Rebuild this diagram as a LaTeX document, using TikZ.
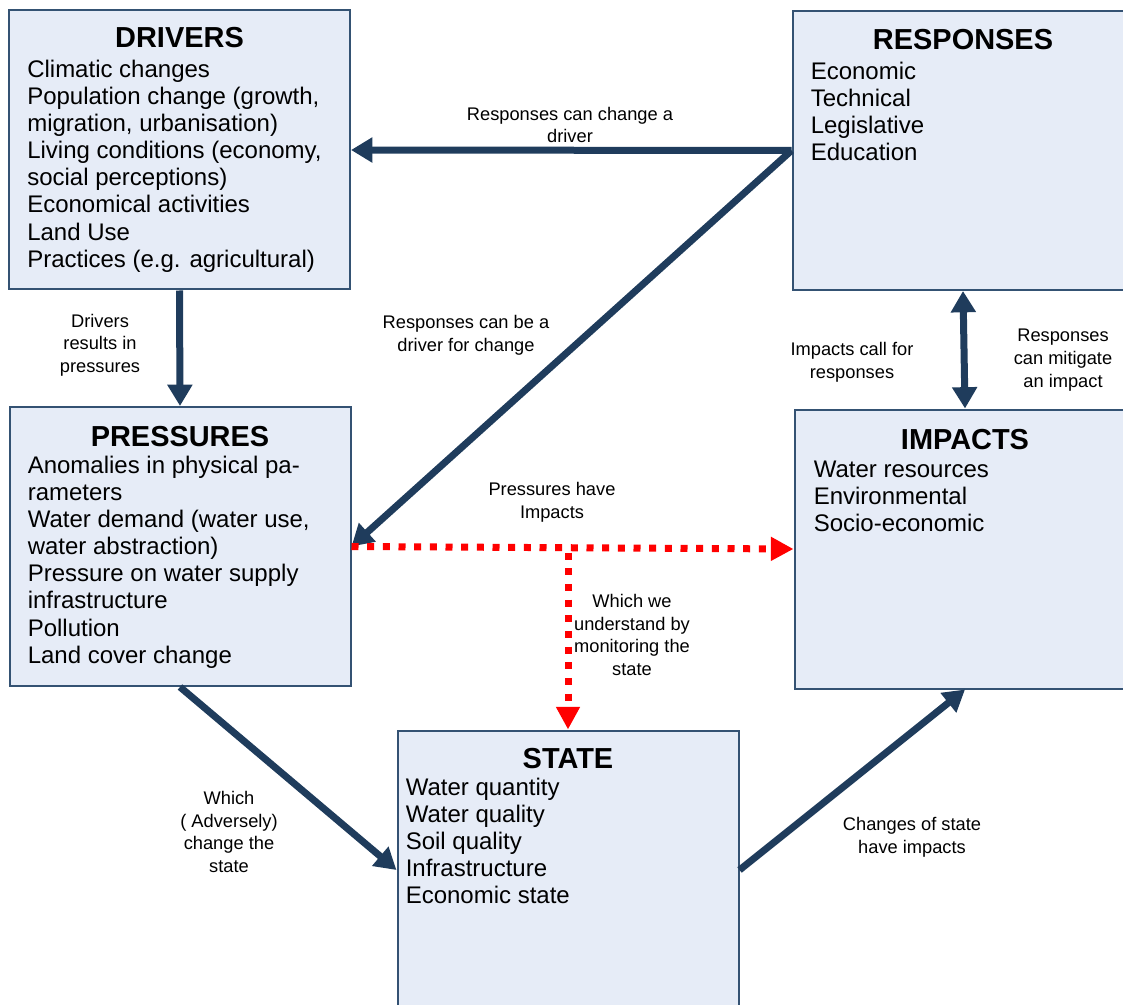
\documentclass[tikz,border=0pt]{standalone}
\usepackage{fontspec}
\setmainfont{Liberation Sans}
\usetikzlibrary{arrows.meta, positioning, calc}
\definecolor{boxline}{RGB}{52, 82, 115}
\definecolor{boxfill}{RGB}{230, 236, 247}
\definecolor{flownavy}{RGB}{31, 60, 92}

\begin{document}
\begin{tikzpicture}[x=0.75pt, y=-0.75pt,
  dpsir/.style={draw=boxline, fill=boxfill, line width=1.5pt, minimum width=255.75pt, minimum height=209.25pt, inner sep=0pt},
  head/.style={anchor=base, inner sep=0pt, font=\fontsize{21.7pt}{24pt}\selectfont\bfseries},
  items/.style={anchor=north west, align=left, inner sep=0pt, font=\fontsize{18pt}{20.3pt}\selectfont},
  flow/.style={draw=flownavy, line width=5.25pt, -{Triangle[length=16pt, width=18pt]}},
  monitor/.style={draw=red, line width=5.25pt, dash pattern=on 5.25pt off 6.5pt, -{Triangle[length=17pt, width=17pt]}},
  note/.style={align=center, inner sep=0pt, font=\fontsize{13.7pt}{17pt}\selectfont}
]
  \useasboundingbox (0,0) rectangle (1123,1005);
  \clip (0,0) rectangle (1123,1005);

  % the five boxes
  \node[dpsir] (drivers) at (179.5,150) {};
  \node[dpsir] (responses) at (963,150.5) {};
  \node[dpsir] (pressures) at (180,546.5) {};
  \node[dpsir] (impacts) at (965,549) {};
  \node[dpsir] (state) at (568,870) {};

  \node[head] (driverstitle) at ($(drivers.north)+(0,38.5)$) {DRIVERS};
  \node[items] (driverslist) at ($(drivers.north west)+(19,50.5)$) {Climatic changes\\Population change (growth,\\migration, urbanisation)\\Living conditions (economy,\\social perceptions)\\Economical activities\\Land Use\\Practices (e.g. agricultural)};

  \node[head] (responsestitle) at ($(responses.north)+(0,39.5)$) {RESPONSES};
  \node[items] (responseslist) at ($(responses.north west)+(19,51.5)$) {Economic\\Technical\\Legislative\\Education};

  \node[head] (pressurestitle) at ($(pressures.north)+(0,40.5)$) {PRESSURES};
  \node[items] (pressureslist) at ($(pressures.north west)+(19,50)$) {Anomalies in physical pa-\\rameters\\Water demand (water use,\\water abstraction)\\Pressure on water supply\\infrastructure\\Pollution\\Land cover change};

  \node[head] (impactstitle) at ($(impacts.north)+(0,40.5)$) {IMPACTS};
  \node[items] (impactslist) at ($(impacts.north west)+(20,52)$) {Water resources\\Environmental\\Socio-economic};

  \node[head] (statetitle) at ($(state.north)+(0,38.5)$) {STATE};
  \node[items] (statelist) at ($(state.north west)+(9,48)$) {Water quantity\\Water quality\\Soil quality\\Infrastructure\\Economic state};

  % connectors
  \draw[flow] (responses.west) -- (drivers.east);
  \draw[flow] (responses.west) -- (pressures.east);
  \draw[flow] (drivers.south) -- (pressures.north);
  \draw[flow] (pressures.south) -- (state.west);
  \draw[flow] (state.east) -- (impacts.south);
  \draw[flow, {Triangle[length=16pt, width=18pt]}-{Triangle[length=16pt, width=18pt]}] (responses.south) -- (impacts.north);

  \coordinate (split) at (state.north |- pressures.east);
  \draw[monitor] (pressures.east) -- (impacts.west);
  \draw[monitor] ($(split)+(0,6)$) -- (state.north);

  % labels
  \node[note] (lblchange) at (570,125) {Responses can change a\\driver};
  \node[note] (lblbedriver) at (466,335) {Responses can be a\\driver for change};
  \node[note] (lblresults) at (100,345) {Drivers\\results in\\pressures};
  \node[note] (lblhave) at (552,502) {Pressures have\\Impacts};
  \node[note] (lblmonitor) at (632,635) {Which we\\understand by\\monitoring the\\state};
  \node[note] (lblcall) at (852,362) {Impacts call for\\responses};
  \node[note] (lblmitigate) at (1063,360) {Responses\\can mitigate\\an impact};
  \node[note] (lbladverse) at (229,832) {Which\\( Adversely)\\change the\\state};
  \node[note] (lblchanges) at (912,837) {Changes of state\\have impacts};
\end{tikzpicture}
\end{document}
